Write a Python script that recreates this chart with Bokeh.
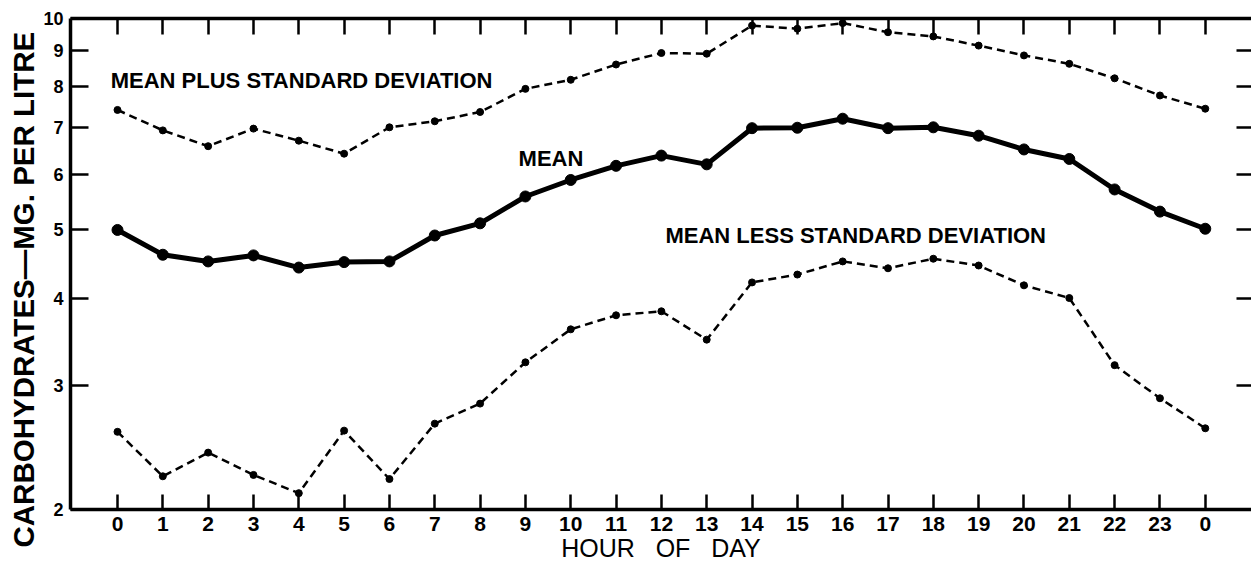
from bokeh.plotting import figure
from bokeh.models import Range1d, FixedTicker, LinearAxis, LogAxis, Label, Title, ColumnDataSource
from bokeh.embed import file_html
from bokeh.resources import INLINE

hours = list(range(25))
hour_labels = ["0", "1", "2", "3", "4", "5", "6", "7", "8", "9", "10", "11", "12",
               "13", "14", "15", "16", "17", "18", "19", "20", "21", "22", "23", "0"]
mean = [5.00, 4.61, 4.51, 4.60, 4.42, 4.50, 4.51, 4.91, 5.11, 5.58, 5.89, 6.17, 6.38,
        6.20, 6.98, 6.99, 7.20, 6.98, 7.00, 6.81, 6.51, 6.31, 5.71, 5.31, 5.02]
mean_plus_sd = [7.41, 6.93, 6.58, 6.97, 6.70, 6.42, 7.00, 7.14, 7.36, 7.94, 8.18, 8.60, 8.93,
                8.91, 9.77, 9.67, 9.85, 9.56, 9.43, 9.15, 8.86, 8.62, 8.22, 7.77, 7.44]
mean_less_sd = [2.58, 2.23, 2.41, 2.24, 2.11, 2.59, 2.21, 2.65, 2.83, 3.24, 3.61, 3.78, 3.83,
                3.49, 4.21, 4.32, 4.51, 4.41, 4.55, 4.45, 4.17, 4.00, 3.21, 2.88, 2.61]
y_ticks = [2, 3, 4, 5, 6, 7, 8, 9, 10]

FONT = "Liberation Sans"
INK = "#000000"

src = ColumnDataSource(dict(x=hours, mean=mean, hi=mean_plus_sd, lo=mean_less_sd))

p = figure(width=1251, height=567, x_range=Range1d(-1.037, 25.02), y_range=Range1d(2, 10),
           y_axis_type="log", output_backend="svg", toolbar_location=None,
           min_border_left=70, min_border_right=0, min_border_top=18, min_border_bottom=58)
p.outline_line_color = None
p.grid.visible = False
p.background_fill_color = "white"
p.border_fill_color = "white"

# series
p.line("x", "hi", source=src, line_color=INK, line_width=2.5, line_dash="8 5")
p.scatter("x", "hi", source=src, size=7, color=INK)
p.line("x", "mean", source=src, line_color=INK, line_width=5)
p.scatter("x", "mean", source=src, size=11, color=INK)
p.line("x", "lo", source=src, line_color=INK, line_width=2.5, line_dash="8 5")
p.scatter("x", "lo", source=src, size=7, color=INK)

# bottom axis
xa = p.xaxis[0]
xa.ticker = FixedTicker(ticks=hours)
xa.major_label_overrides = {i: s for i, s in enumerate(hour_labels)}
xa.major_tick_in = 15
xa.major_tick_out = 0
xa.major_tick_line_width = 2.5
xa.major_tick_line_color = INK
xa.minor_tick_line_color = None
xa.axis_line_width = 3.5
xa.axis_line_color = INK
xa.major_label_standoff = 7
xa.major_label_text_font = FONT
xa.major_label_text_font_style = "bold"
xa.major_label_text_font_size = "21px"
xa.major_label_text_color = INK
xa.axis_label = "HOUR\u00a0\u00a0\u00a0OF\u00a0\u00a0\u00a0DAY"
xa.axis_label_text_font = FONT
xa.axis_label_text_font_style = "normal"
xa.axis_label_text_font_size = "25px"
xa.axis_label_text_color = INK
xa.axis_label_standoff = 0

# left axis
ya = p.yaxis[0]
ya.ticker = FixedTicker(ticks=y_ticks, minor_ticks=[])
ya.major_label_overrides = {t: str(t) for t in y_ticks}
ya.major_tick_in = 18
ya.major_tick_out = 0
ya.major_tick_line_width = 2.5
ya.major_tick_line_color = INK
ya.minor_tick_line_color = None
ya.axis_line_width = 3.5
ya.axis_line_color = INK
ya.major_label_standoff = 7
ya.major_label_text_font = FONT
ya.major_label_text_font_style = "bold"
ya.major_label_text_font_size = "18px"
ya.major_label_text_color = INK

# y title as a side title, so it can start below the frame's bottom like the reference
p.add_layout(Title(text="CARBOHYDRATES—MG. PER LITRE", align="left", offset=-38, standoff=0,
                   vertical_align="middle", text_font=FONT, text_font_style="bold",
                   text_font_size="29.5px", text_color=INK), "left")

# top axis (ticks only)
top = LinearAxis(ticker=FixedTicker(ticks=hours), major_tick_in=16, major_tick_out=0,
                 major_tick_line_width=2.5, axis_line_width=3.5, minor_tick_line_color=None,
                 major_label_text_font_size="0px", major_label_text_color=None,
                 major_label_standoff=0)
p.add_layout(top, "above")

# right axis (ticks only)
right = LogAxis(ticker=FixedTicker(ticks=y_ticks, minor_ticks=[]), major_tick_in=15, major_tick_out=0,
                major_tick_line_width=2.5, axis_line_color=None, minor_tick_line_color=None,
                major_label_text_font_size="0px", major_label_text_color=None,
                major_label_standoff=0)
p.add_layout(right, "right")

# annotations
for txt, x, y in [("MEAN PLUS STANDARD DEVIATION", -0.15, 8.15),
                  ("MEAN", 8.85, 6.32),
                  ("MEAN LESS STANDARD DEVIATION", 12.09, 4.91)]:
    p.add_layout(Label(x=x, y=y, text=txt, text_font=FONT, text_font_style="bold",
                       text_font_size="22px", text_baseline="middle", text_align="left",
                       text_color=INK))

open("out.html", "w").write(file_html(p, INLINE))
